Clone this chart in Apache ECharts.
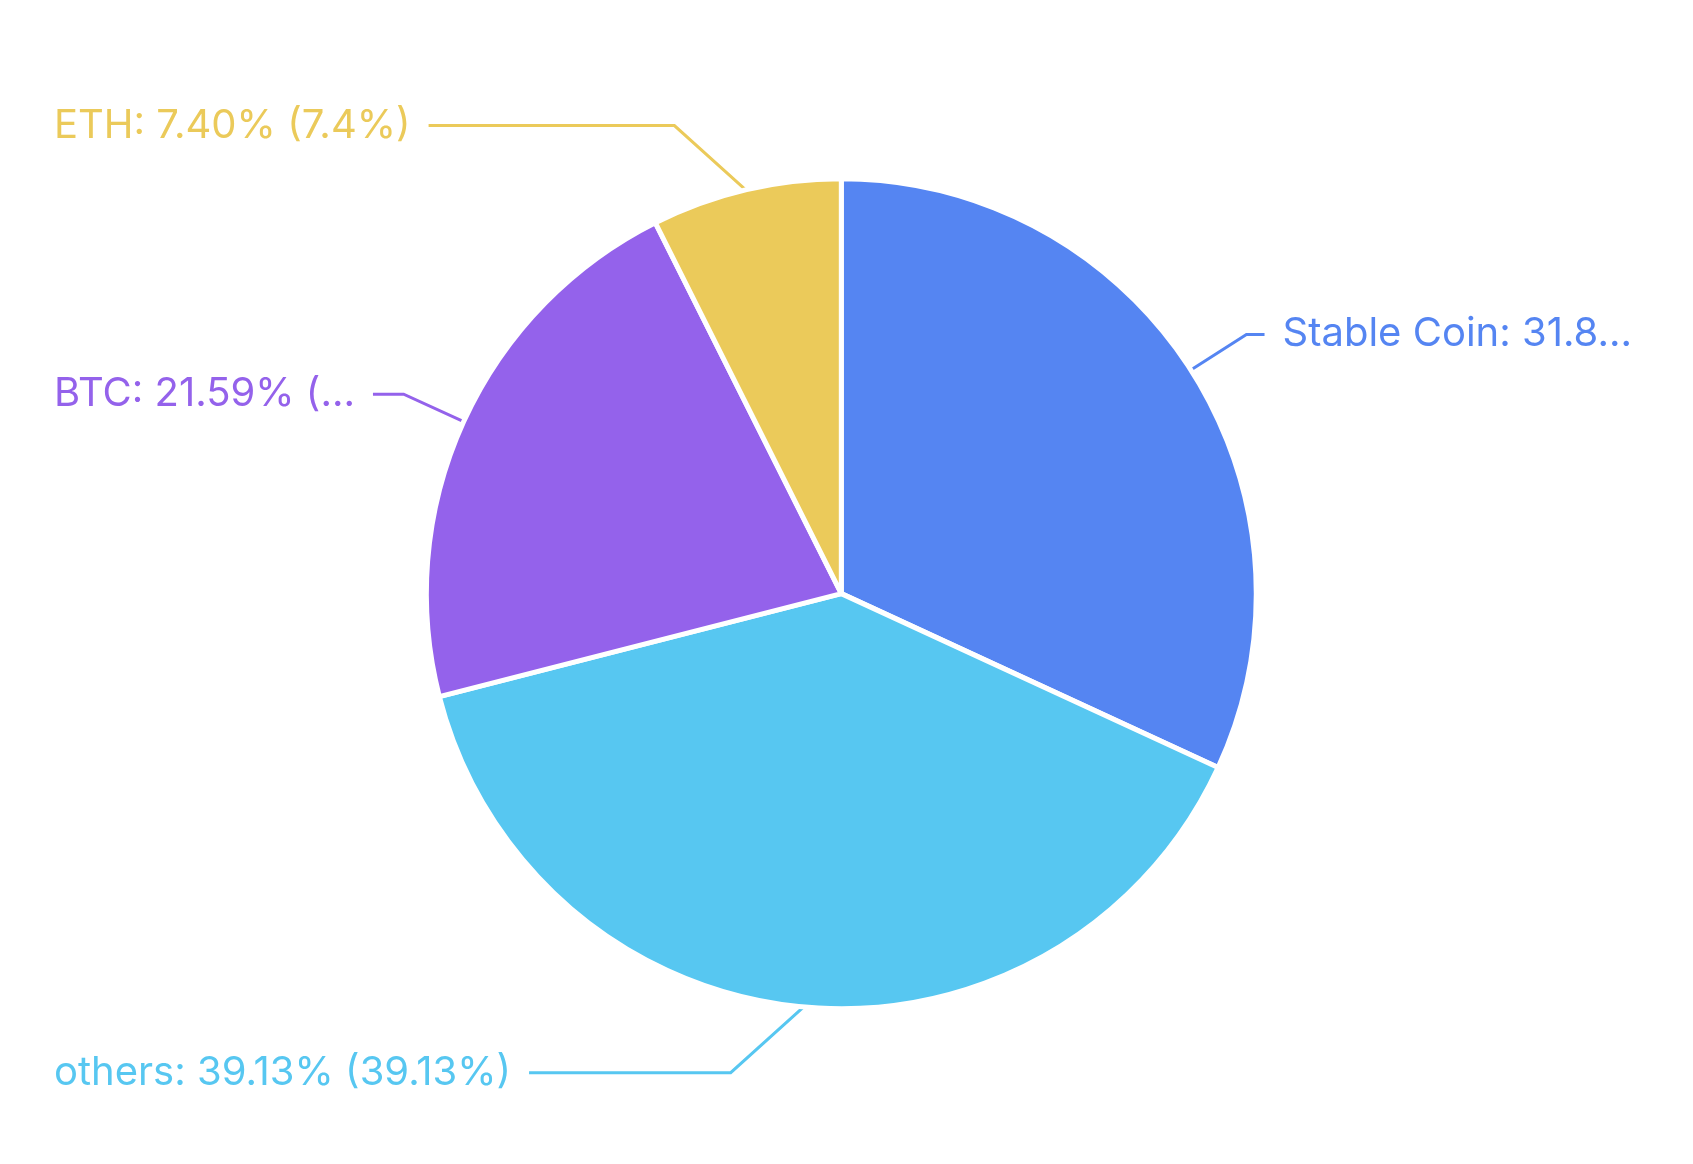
<!DOCTYPE html>
<html lang="en">
<head>
    <meta charset="UTF-8">
    <title>Holdings</title>
    <style type="text/css">
        *{
            margin: 0px;
            padding: 0px;
        }
        body{
            background-color: #fff;
        }
        #main{
            width: 1693px;
            height: 1164px;
        }
    </style>
</head>
<body>

<div id="main"></div>

<script src="https://cdn.jsdelivr.net/npm/echarts@6/dist/echarts.min.js"></script>
<script type="text/javascript">
    // slice order follows the picture: clockwise from 12 o'clock
    var names = ['Stable Coin', 'others', 'BTC', 'ETH'];
    var values = [31.88, 39.13, 21.59, 7.40];
    var colors = ['#5585F2', '#57C7F1', '#9462EB', '#EBCA5A'];

    var myChart = echarts.init(document.getElementById('main'));

    var pieData = [];
    for (var i = 0; i < names.length; i++) {
        pieData.push({
            name: names[i],
            value: values[i],
            itemStyle: { color: colors[i] },
            label: { color: colors[i] },
            labelLine: { lineStyle: { color: colors[i], width: 3 } }
        });
    }

    var option = {
        animation: false,
        series: [
            {
                type: 'pie',
                left: 0,
                right: 7,
                center: ['49.9%', '51%'],
                radius: '71.3%',
                startAngle: 90,
                clockwise: true,
                itemStyle: {
                    borderColor: '#fff',
                    borderWidth: 5
                },
                label: {
                    show: true,
                    fontFamily: 'Inter',
                    fontSize: 40,
                    alignTo: 'edge',
                    edgeDistance: 54,
                    distanceToLabelLine: 18,
                    overflow: 'truncate',
                    formatter: function (p) {
                        return p.name + ': ' + p.value.toFixed(2) + '% (' + p.percent + '%)';
                    }
                },
                labelLine: {
                    length: 66,
                    length2: 16,
                    minTurnAngle: 138,
                    lineStyle: { width: 3 }
                },
                data: pieData
            }
        ]
    };
    myChart.setOption(option);
</script>
</body>
</html>
